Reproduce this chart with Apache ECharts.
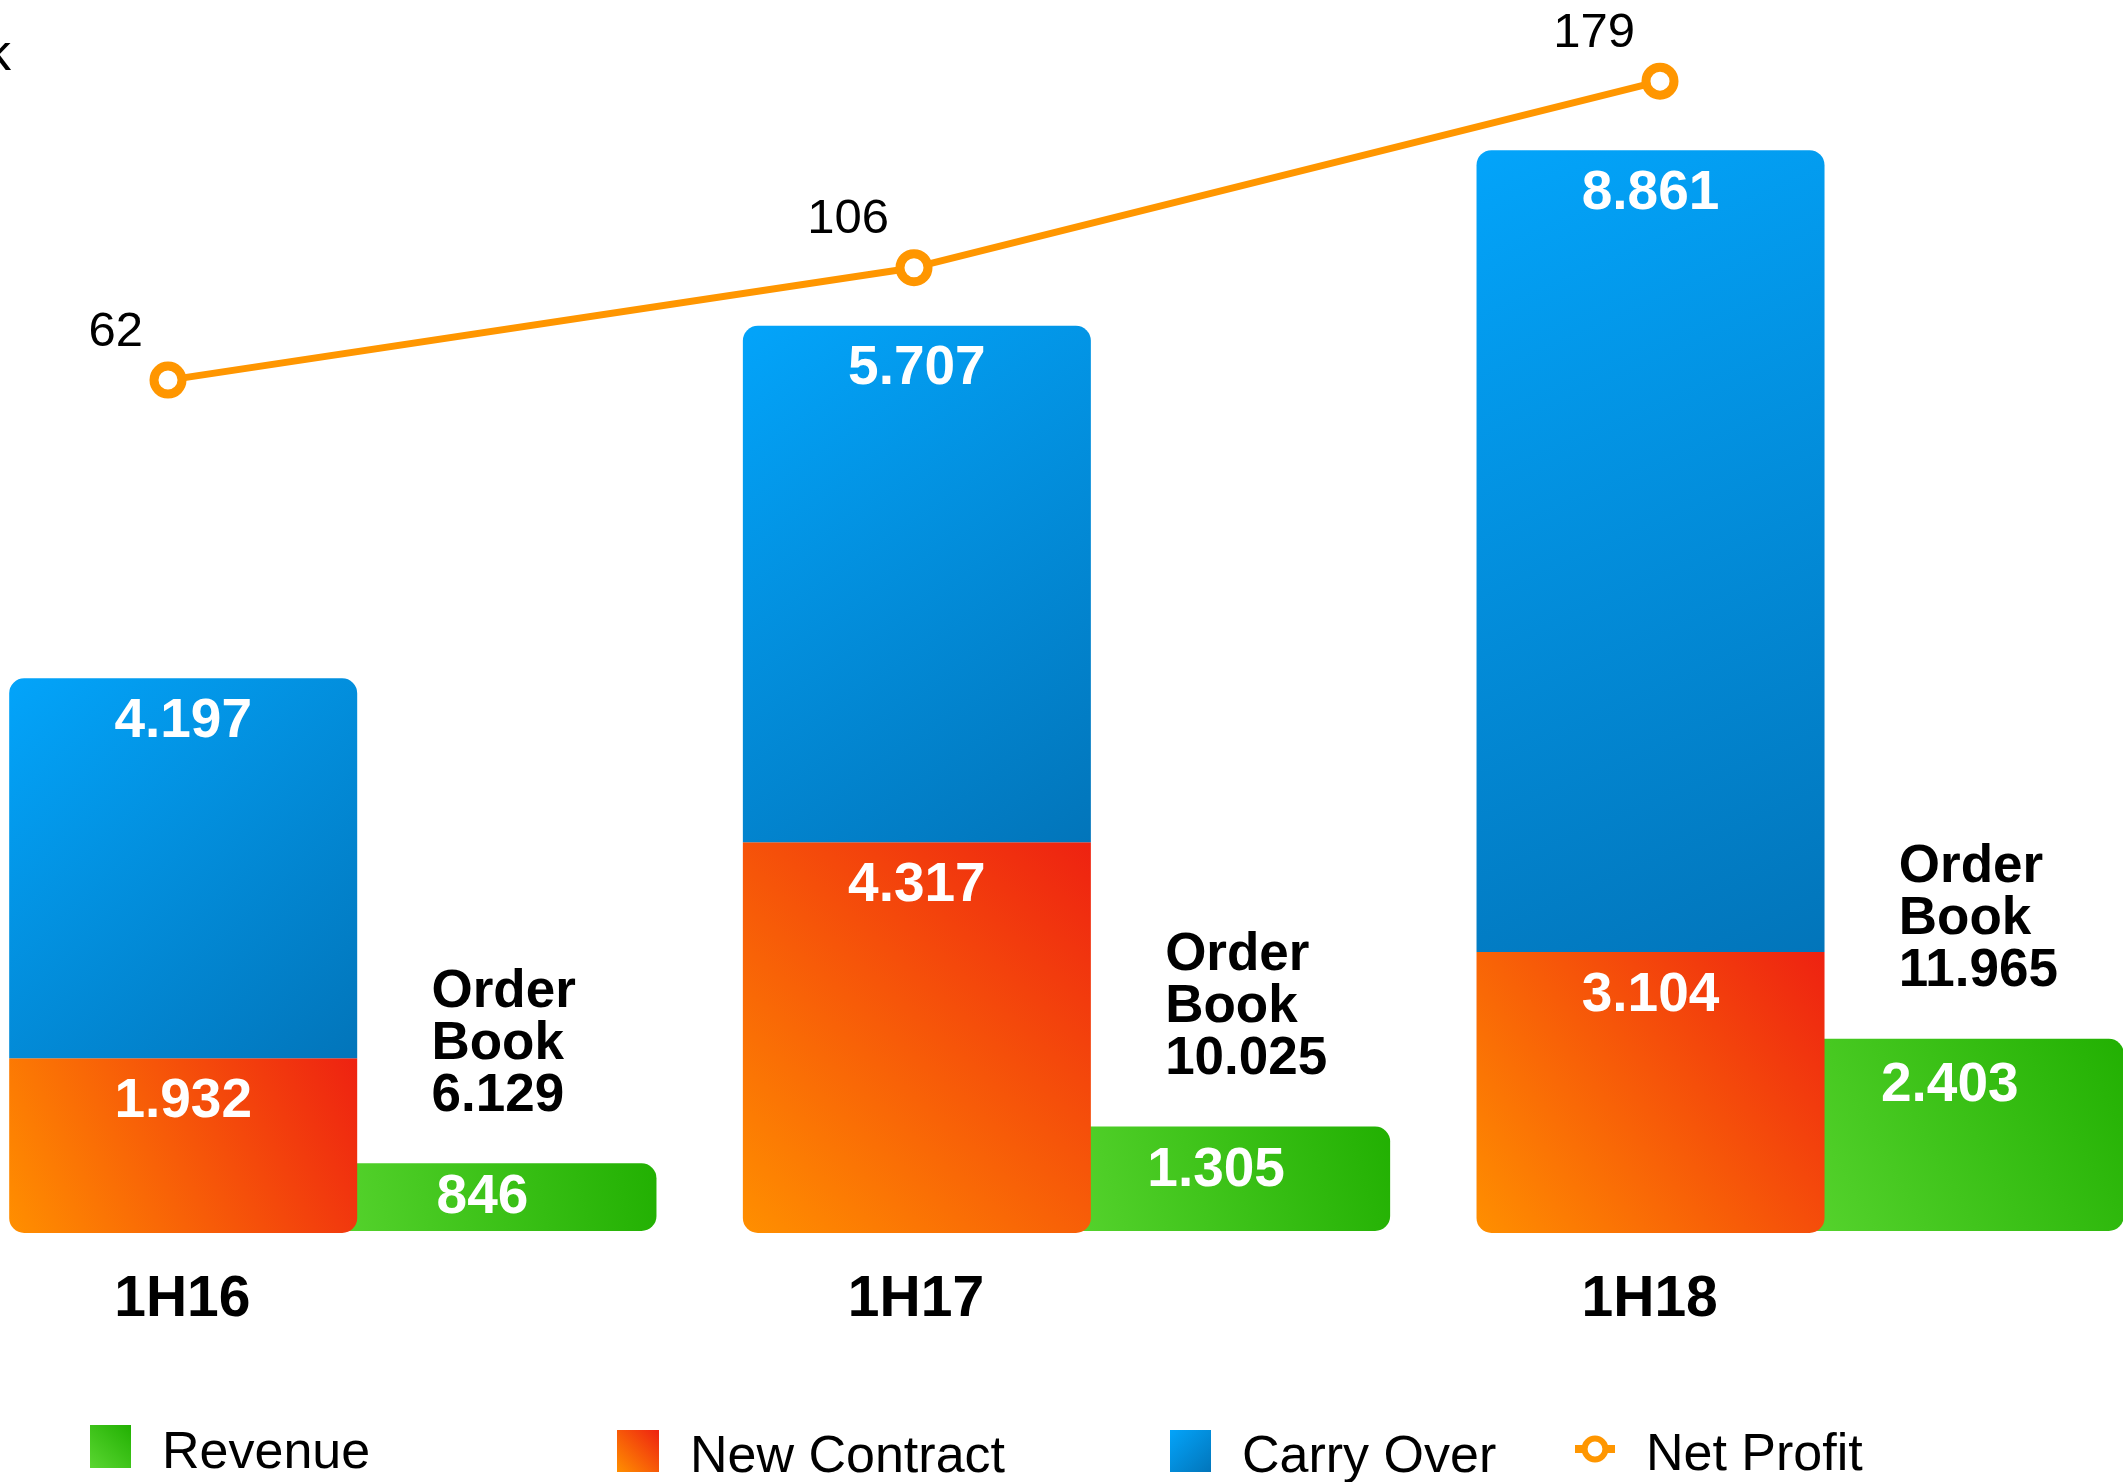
<!DOCTYPE html>
<html>
<head>
<meta charset="utf-8">
<title>Order Book</title>
<script src="https://cdn.jsdelivr.net/npm/echarts@6/dist/echarts.min.js"></script>
<style>
    html, body {margin: 0; padding: 0; background: #fff;}
    #orderBookChart {width: 2123px; height: 1482px;}
</style>
</head>
<body>
<div id="orderBookChart"></div>
<script type="text/javascript">
    // 数据 (Rp bn)
    var periods = ['1H16', '1H17', '1H18'];
    var revenue = [846, 1305, 2403];
    var newContract = [1932, 4317, 3104];
    var carryOver = [4197, 5707, 8861];
    var orderBook = [6129, 10025, 11965];
    var netProfit = [62, 106, 179];

    var fontFamily = '"Liberation Sans", Arial, Helvetica, sans-serif';
    var revenueLabelGap = [7, 17, 20];

    function fmt(v) {
        return String(v).replace(/\B(?=(\d{3})+(?!\d))/g, '.');
    }

    function grad(x, y, x2, y2, c1, c2) {
        return new echarts.graphic.LinearGradient(x, y, x2, y2, [
            {offset: 0, color: c1},
            {offset: 1, color: c2}
        ]);
    }

    var greenFill = grad(0, 1, 1, 0, '#5AD631', '#22B002');
    var redFill = grad(1, 0, 0, 1, '#EE2211', '#FF8F00');
    var blueFill = grad(0, 0, 1, 1, '#03A4FA', '#0275BA');

    function valueLabel(position, distance) {
        return {
            show: true,
            position: position,
            distance: distance,
            color: '#fff',
            fontSize: 55,
            fontWeight: 'bold',
            fontFamily: fontFamily,
            formatter: function (p) {
                return fmt(p.value);
            }
        };
    }

    function legendBox(name, left, top, w, h, icon) {
        var box = {
            data: [name],
            left: left,
            top: top,
            itemWidth: w,
            itemHeight: h,
            selectedMode: false,
            formatter: function (n) {
                return '{t|' + n + '}';
            },
            textStyle: {
                fontSize: 52,
                color: '#000',
                fontFamily: fontFamily,
                rich: {
                    t: {
                        fontSize: 52,
                        color: '#000',
                        fontFamily: fontFamily,
                        lineHeight: 66,
                        verticalAlign: 'bottom',
                        padding: [0, 0, 0, 26]
                    }
                }
            }
        };
        if (icon) {
            box.icon = icon;
        }
        return box;
    }

    var chart = echarts.init(document.getElementById('orderBookChart'));

    var netProfitLegend = legendBox('Net Profit', 1566, 1425, 40, 26);
    netProfitLegend.lineStyle = {width: 8};
    netProfitLegend.itemStyle = {borderWidth: 6};

    var option = {
        animation: false,
        backgroundColor: '#fff',
        textStyle: {fontFamily: fontFamily},
        legend: [
            legendBox('Revenue', 85, 1420, 41, 43, 'rect'),
            legendBox('New Contract', 612, 1425, 42, 42, 'rect'),
            legendBox('Carry Over', 1165, 1425, 41, 42, 'rect'),
            netProfitLegend
        ],
        graphic: [{
            type: 'text',
            left: -15,
            top: 30,
            style: {
                text: 'k',
                font: '52px ' + fontFamily,
                fill: '#000'
            }
        }],
        grid: [
            {left: -34, right: -44, top: 83, bottom: 249, outerBoundsMode: 'none', containLabel: false},
            {left: -205, right: 90, top: 27.5, bottom: 943.5, outerBoundsMode: 'none', containLabel: false}
        ],
        xAxis: [{
            type: 'category',
            gridIndex: 0,
            data: periods,
            axisLine: {show: false},
            axisTick: {show: false},
            axisLabel: {
                margin: 39,
                fontSize: 57,
                fontWeight: 'bold',
                color: '#000',
                padding: [0, 301, 0, 0]
            }
        }, {
            type: 'category',
            gridIndex: 1,
            data: periods,
            show: false
        }],
        yAxis: [
            //  ------ 订单 ------
            {type: 'value', gridIndex: 0, min: 0, max: 12707, show: false, splitLine: {show: false}},
            //  ------ 收入 ------
            {type: 'value', gridIndex: 0, min: -25, max: 14350, show: false, splitLine: {show: false}},
            //  ------ 净利润 ------
            {type: 'value', gridIndex: 1, min: 0, max: 200, show: false, splitLine: {show: false}}
        ],
        series: [
            {
                name: 'New Contract',
                type: 'bar',
                stack: 'ob',
                yAxisIndex: 0,
                barWidth: 348,
                barGap: '-14%',
                z: 2,
                data: newContract,
                itemStyle: {color: redFill, borderRadius: [0, 0, 15, 15]},
                label: valueLabel('insideTop', 16)
            },
            {
                name: 'Carry Over',
                type: 'bar',
                stack: 'ob',
                yAxisIndex: 0,
                barWidth: 348,
                barGap: '-14%',
                z: 2,
                data: carryOver,
                itemStyle: {color: blueFill, borderRadius: [15, 15, 0, 0]},
                label: valueLabel('insideTop', 16)
            },
            {
                name: 'Revenue',
                type: 'bar',
                stack: 'rev',
                yAxisIndex: 1,
                barWidth: 348,
                barGap: '-14%',
                z: 1,
                data: revenue.map(function (v, i) {
                    return {value: v, label: {distance: revenueLabelGap[i]}};
                }),
                itemStyle: {color: greenFill, borderRadius: 15},
                label: valueLabel('insideTop', 17)
            },
            {
                name: 'Order Book',
                type: 'bar',
                stack: 'rev',
                yAxisIndex: 1,
                barWidth: 348,
                barGap: '-14%',
                z: 3,
                data: [0, 0, 0],
                itemStyle: {color: 'rgba(0,0,0,0)'},
                label: {
                    show: true,
                    position: 'top',
                    align: 'left',
                    distance: 41,
                    offset: [-51, 0],
                    color: '#000',
                    fontSize: 53,
                    lineHeight: 52,
                    fontWeight: 'bold',
                    fontFamily: fontFamily,
                    formatter: function (p) {
                        return 'Order\nBook\n' + fmt(orderBook[p.dataIndex]);
                    }
                }
            },
            {
                name: 'Net Profit',
                type: 'line',
                xAxisIndex: 1,
                yAxisIndex: 2,
                z: 5,
                data: netProfit,
                symbol: 'circle',
                symbolSize: 28,
                lineStyle: {color: '#FF9600', width: 7},
                itemStyle: {color: '#fff', borderWidth: 9, borderColor: '#FF9600'},
                label: {
                    show: true,
                    position: 'inside',
                    align: 'right',
                    verticalAlign: 'middle',
                    offset: [-25, -48],
                    color: '#000',
                    fontSize: 49,
                    fontFamily: fontFamily
                }
            }
        ]
    };

    chart.setOption(option);
</script>
</body>
</html>
